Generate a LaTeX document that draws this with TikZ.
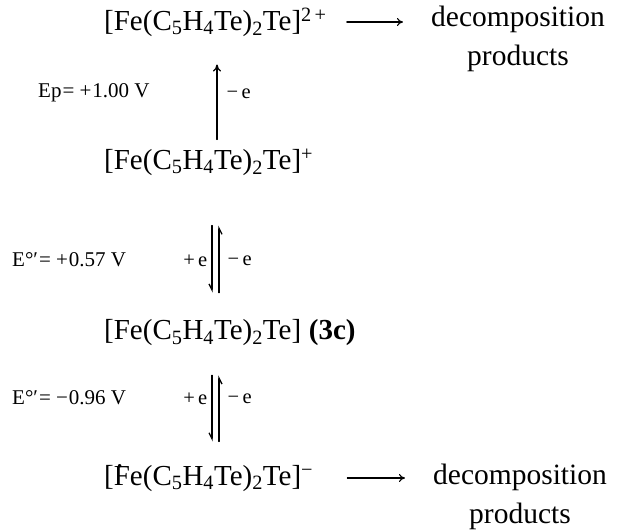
\documentclass[tikz,border=0pt]{standalone}
\usepackage{fontspec}
\setmainfont{Liberation Serif}
\usetikzlibrary{arrows.meta}
\newcommand{\ferro}[2]{[#1e(C\textsubscript{5}H\textsubscript{4}Te)\textsubscript{2}Te]\textsuperscript{#2}}
\newcommand{\dotF}{\rlap{\hspace{0.08em}\raisebox{0.6em}{.}}F}
\tikzset{
  every picture/.style={line join=round, line cap=round},
  species/.style={font=\fontsize{29}{34}\selectfont, inner sep=0pt},
  products/.style={font=\fontsize{29.5}{39}\selectfont, align=center, inner sep=0pt},
  potential/.style={font=\fontsize{21}{24}\selectfont, inner sep=0pt},
  electron/.style={font=\fontsize{20.5}{24}\selectfont, inner sep=0pt},
  rxn/.style={-{To[length=6pt,width=8pt]}, line width=1.1pt},
  oneway/.style={-{To[length=7pt,width=8pt]}, line width=1.3pt},
  harp/.style={-{Straight Barb[right,length=6pt,width=6pt]}, line width=1.3pt},
}
\begin{document}
\begin{tikzpicture}[x=1pt,y=-1pt]
\useasboundingbox (0,0) rectangle (630,532);
% species
\node[species, anchor=west] (dication) at (104,22) {\ferro{F}{2\,+}};
\node[species, anchor=west] (cation) at (104,162) {\ferro{F}{+}};
\node[species, anchor=west] (neutral) at (104,333) {\ferro{F}{}\ \textbf{(3c)}};
\node[species, anchor=west] (anion) at (104,478) {\ferro{\dotF}{−}};
\node[products, anchor=north] (decomp1) at (518,6) {decomposition\\products};
\node[products, anchor=north] (decomp2) at (520,464) {decomposition\\products};
% potentials
\node[potential, anchor=west] (ep) at (38,93) {Ep\kern1pt= +\kern1pt1.00 V};
\node[potential, anchor=west] (e1) at (12,260) {E°′\kern1pt= +\kern1pt0.57 V};
\node[potential, anchor=west] (e2) at (12,398) {E°′\kern1pt= −\kern1pt0.96 V};
% axis of the vertical arrows
\coordinate (axis) at (217,0);
\coordinate (axisL) at (212,0);
\coordinate (axisR) at (219,0);
% decomposition
\draw[rxn, shorten <=20pt, shorten >=28pt] (dication.east) -- (dication.east -| decomp1.west);
\draw[rxn, shorten <=34pt, shorten >=28pt] (anion.east) -- (anion.east -| decomp2.west);
% irreversible oxidation
\draw[oneway, shorten <=9pt, shorten >=28pt]
  (cation.north -| axis) -- (dication.south -| axis) node[pos=0.49, right=9pt, electron] (m0) {−\,e};
% first couple
\draw[harp, shorten <=50pt, shorten >=27pt] (cation.south -| axisL) -- (neutral.north -| axisL)
  node[pos=0.59, left=4pt, electron] (p1) {+\,e};
\draw[harp, shorten <=27pt, shorten >=50pt] (neutral.north -| axisR) -- (cation.south -| axisR)
  node[pos=0.41, right=8pt, electron] (m1) {−\,e};
% second couple
\draw[harp, shorten <=29pt, shorten >=23pt] (neutral.south -| axisL) -- (anion.north -| axisL)
  node[pos=0.44, left=4pt, electron] (p2) {+\,e};
\draw[harp, shorten <=23pt, shorten >=29pt] (anion.north -| axisR) -- (neutral.south -| axisR)
  node[pos=0.56, right=8pt, electron] (m2) {−\,e};
\end{tikzpicture}
\end{document}
